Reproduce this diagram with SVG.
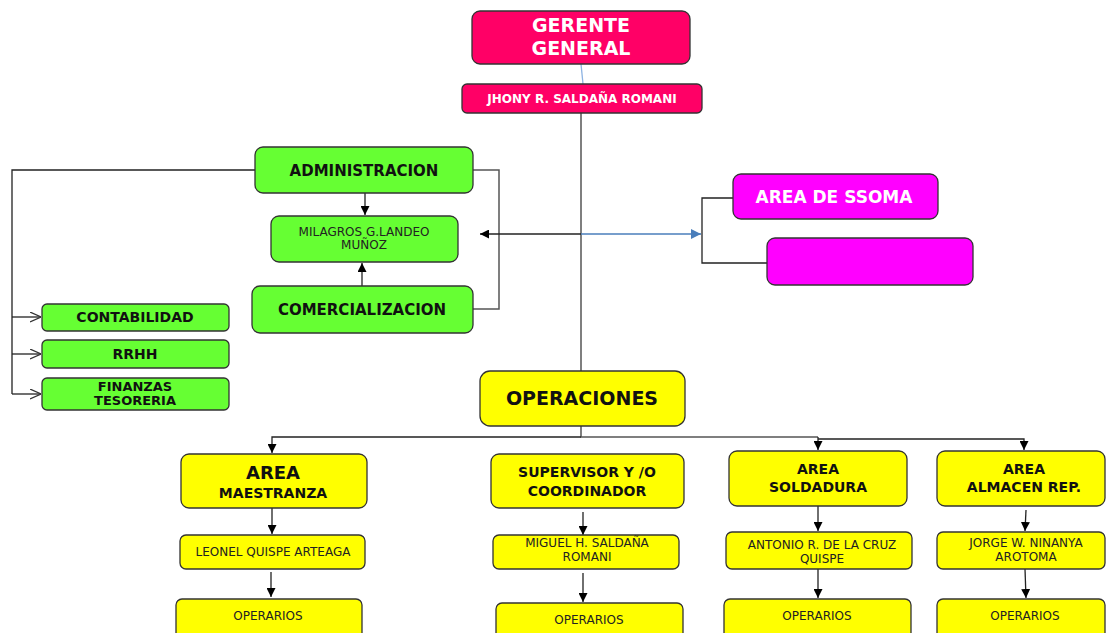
<svg xmlns="http://www.w3.org/2000/svg" width="1106" height="633" viewBox="0 0 1106 633">
<defs>
<marker id="ah" viewBox="0 0 10 10" refX="10" refY="5" markerWidth="9" markerHeight="9" orient="auto" markerUnits="userSpaceOnUse"><path d="M0,0 L10,5 L0,10 z" fill="#000"/></marker>
<marker id="ahb" viewBox="0 0 10 10" refX="10" refY="5" markerWidth="10" markerHeight="10" orient="auto" markerUnits="userSpaceOnUse"><path d="M0,0 L10,5 L0,10 z" fill="#4a7ebb"/></marker>
<marker id="aho" viewBox="0 0 10 10" refX="10" refY="5" markerWidth="11" markerHeight="11" orient="auto" markerUnits="userSpaceOnUse"><path d="M0,0.5 L10,5 L0,9.5" fill="none" stroke="#333" stroke-width="1.2"/></marker>
</defs>
<style>
rect{stroke:#333;stroke-width:1.3}
.pk{fill:#ff0066}.mg{fill:#ff00ff}.gr{fill:#66ff33}.yl{fill:#ffff00}
text{font-family:"DejaVu Sans","Liberation Sans",sans-serif;text-anchor:middle}
.b{font-weight:bold}
.w{fill:#fff}
.k{fill:#111}
.n{font-size:12px;fill:#222}
.c{fill:none;stroke:#222;stroke-width:1.3}
.g{fill:none;stroke:#555;stroke-width:1.5}
</style>
<rect width="1106" height="633" fill="#fff" style="stroke:none"/>
<g id="connectors">
<path class="c" d="M581,64 L583,84" style="stroke:#8db3e2"/>
<path class="g" d="M581,113 V371"/>
<path class="c" d="M365,193 V215" marker-end="url(#ah)"/>
<path class="c" d="M362,286 V263" marker-end="url(#ah)"/>
<path class="g" d="M473,170 H499 V309 H473"/>
<path class="c" d="M581,234 H480" marker-end="url(#ah)"/>
<path class="c" d="M581,234 H701" style="stroke:#4a7ebb" marker-end="url(#ahb)"/>
<path class="c" d="M733,198 H702 V263 H767"/>
<path class="c" d="M255,170 H12 V394"/>
<path class="c" d="M12,317 H41" marker-end="url(#aho)"/>
<path class="c" d="M12,354 H41" marker-end="url(#aho)"/>
<path class="c" d="M12,394 H41" marker-end="url(#aho)"/>
<path class="g" d="M581,425 V437 H818"/>
<path class="c" d="M581,437 H272 V453" marker-end="url(#ah)"/>
<path class="c" d="M818,437 V450" marker-end="url(#ah)"/>
<path class="c" d="M818,439 H1024 V450" marker-end="url(#ah)"/>
<path class="c" d="M272,508 V534" marker-end="url(#ah)"/>
<path class="c" d="M271,572 V597" marker-end="url(#ah)"/>
<path class="c" d="M583,512 V535" marker-end="url(#ah)"/>
<path class="c" d="M583,573 V602" marker-end="url(#ah)"/>
<path class="c" d="M818,506 V531" marker-end="url(#ah)"/>
<path class="c" d="M818,569 V598" marker-end="url(#ah)"/>
<path class="c" d="M1026,510 L1025,531" marker-end="url(#ah)"/>
<path class="c" d="M1025,569 L1026,598" marker-end="url(#ah)"/>
</g>
<g id="gerente"><rect class="pk" x="472" y="11" width="218" height="53" rx="8"/><text class="b w" x="581" y="32" font-size="19">GERENTE</text><text class="b w" x="581" y="55" font-size="19">GENERAL</text></g>
<g id="jhony"><rect class="pk" x="462" y="84" width="240" height="29" rx="5"/><text class="b w" x="582" y="103" font-size="12">JHONY R. SALDAÑA ROMANI</text></g>
<g id="admin"><rect class="gr" x="255" y="147" width="218" height="46" rx="8"/><text class="b k" x="364" y="176" font-size="15">ADMINISTRACION</text></g>
<g id="milagros"><rect class="gr" x="271" y="216" width="187" height="46" rx="8"/><text class="n" x="364" y="236">MILAGROS G.LANDEO</text><text class="n" x="364" y="249">MUÑOZ</text></g>
<g id="comercial"><rect class="gr" x="252" y="286" width="221" height="47" rx="8"/><text class="b k" x="362" y="315" font-size="15">COMERCIALIZACION</text></g>
<g id="contabilidad"><rect class="gr" x="42" y="304" width="187" height="27" rx="5"/><text class="b k" x="135" y="322" font-size="14">CONTABILIDAD</text></g>
<g id="rrhh"><rect class="gr" x="42" y="340" width="187" height="28" rx="5"/><text class="b k" x="135" y="359" font-size="14">RRHH</text></g>
<g id="finanzas"><rect class="gr" x="42" y="378" width="187" height="32" rx="5"/><text class="b k" x="135" y="391" font-size="13">FINANZAS</text><text class="b k" x="135" y="405" font-size="13">TESORERIA</text></g>
<g id="ssoma"><rect class="mg" x="733" y="174" width="205" height="45" rx="8"/><text class="b w" x="834" y="203" font-size="17">AREA DE SSOMA</text></g>
<g id="magenta2"><rect class="mg" x="767" y="238" width="206" height="47" rx="8"/></g>
<g id="operaciones"><rect class="yl" x="480" y="371" width="205" height="55" rx="10"/><text class="b k" x="582" y="405" font-size="19">OPERACIONES</text></g>
<g id="maestranza"><rect class="yl" x="181" y="454" width="186" height="54" rx="8"/><text class="b k" x="273" y="479" font-size="18">AREA</text><text class="b k" x="273" y="498" font-size="14">MAESTRANZA</text></g>
<g id="supervisor"><rect class="yl" x="491" y="454" width="193" height="54" rx="8"/><text class="b k" x="587" y="477" font-size="14">SUPERVISOR Y /O</text><text class="b k" x="587" y="496" font-size="14">COORDINADOR</text></g>
<g id="soldadura"><rect class="yl" x="729" y="451" width="178" height="55" rx="8"/><text class="b k" x="818" y="474" font-size="14">AREA</text><text class="b k" x="818" y="492" font-size="14">SOLDADURA</text></g>
<g id="almacen"><rect class="yl" x="937" y="451" width="168" height="55" rx="8"/><text class="b k" x="1024" y="474" font-size="14">AREA</text><text class="b k" x="1024" y="492" font-size="14">ALMACEN REP.</text></g>
<g id="leonel"><rect class="yl" x="180" y="535" width="185" height="34" rx="6"/><text class="n" x="273" y="556">LEONEL QUISPE ARTEAGA</text></g>
<g id="miguel"><rect class="yl" x="493" y="535" width="186" height="34" rx="6"/><text class="n" x="587" y="547">MIGUEL H. SALDAÑA</text><text class="n" x="587" y="561">ROMANI</text></g>
<g id="antonio"><rect class="yl" x="726" y="532" width="186" height="37" rx="6"/><text class="n" x="822" y="549">ANTONIO R. DE LA CRUZ</text><text class="n" x="822" y="563">QUISPE</text></g>
<g id="jorge"><rect class="yl" x="937" y="532" width="168" height="37" rx="6"/><text class="n" x="1026" y="547">JORGE W. NINANYA</text><text class="n" x="1026" y="561">AROTOMA</text></g>
<g id="op1"><rect class="yl" x="176" y="599" width="186" height="40" rx="6"/><text class="n" x="268" y="620">OPERARIOS</text></g>
<g id="op2"><rect class="yl" x="496" y="603" width="187" height="36" rx="6"/><text class="n" x="589" y="624">OPERARIOS</text></g>
<g id="op3"><rect class="yl" x="724" y="599" width="187" height="40" rx="6"/><text class="n" x="817" y="620">OPERARIOS</text></g>
<g id="op4"><rect class="yl" x="937" y="599" width="168" height="40" rx="6"/><text class="n" x="1025" y="620">OPERARIOS</text></g>
</svg>
